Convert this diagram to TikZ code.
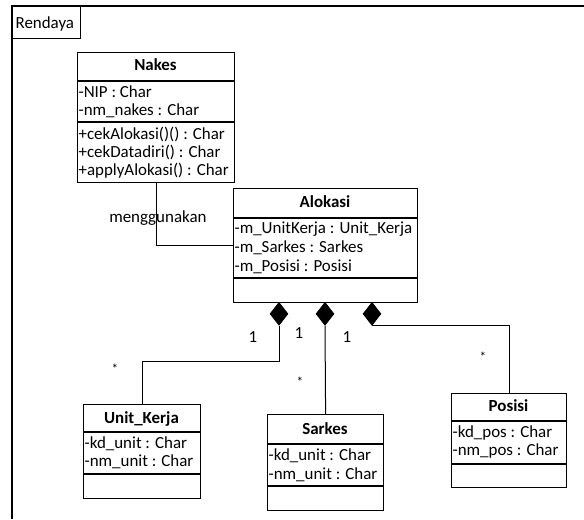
\documentclass[tikz,border=0pt]{standalone}
\usepackage{fontspec}
\setmainfont{Carlito}
\usetikzlibrary{shapes.geometric}
\begin{document}
\begin{tikzpicture}[x=0.75pt,y=-0.75pt,
  every node/.style={font=\fontsize{12.7}{15}\selectfont},
  classbox/.style={draw, line width=0.9pt, anchor=north west, inner sep=0pt},
  sep/.style={line width=0.9pt},
  txt/.style={anchor=base west, inner sep=1pt},
  ttl/.style={anchor=base, inner sep=0pt, font=\fontsize{12.7}{15}\selectfont\bfseries},
  link/.style={line width=0.75pt},
  comp/.style={diamond, fill=black, draw=black, line width=0.5pt, inner sep=0pt,
    minimum width=18*0.75pt, minimum height=23*0.75pt},
  mult/.style={inner sep=0pt}]
\useasboundingbox (0,0) rectangle (584,519);

% package frame and its name tab
\draw[line width=0.9pt] (12,519) -- (12,6) -- (584,6);
\node[classbox, minimum width=68*0.75pt, minimum height=32*0.75pt] (pkg) at (12,6) {};
\node[txt] (pkgname) at (14,28) {Rendaya};

% class Nakes
\node[classbox, minimum width=157*0.75pt, minimum height=130*0.75pt] (nakes) at (77,52) {};
\draw[sep] (nakes.west |- 0,81) -- (nakes.east |- 0,81);
\draw[sep] (nakes.west |- 0,122) -- (nakes.east |- 0,122);
\node[ttl] (nakesT) at (155.5,70) {Nakes};
\node[txt] (nakesA1) at (77,97) {-NIP : Char};
\node[txt] (nakesA2) at (77,115) {-nm\_nakes : Char};
\node[txt] (nakesM1) at (77,139) {+cekAlokasi()() : Char};
\node[txt] (nakesM2) at (77,157) {+cekDatadiri() : Char};
\node[txt] (nakesM3) at (77,175) {+applyAlokasi() : Char};

% class Alokasi
\node[classbox, minimum width=184*0.75pt, minimum height=114*0.75pt] (alok) at (233,188) {};
\draw[sep] (alok.west |- 0,218) -- (alok.east |- 0,218);
\draw[sep] (alok.west |- 0,278) -- (alok.east |- 0,278);
\node[ttl] (alokT) at (325,207) {Alokasi};
\node[txt] (alokA1) at (233,233) {-m\_UnitKerja : Unit\_Kerja};
\node[txt] (alokA2) at (233,252) {-m\_Sarkes : Sarkes};
\node[txt] (alokA3) at (233,271) {-m\_Posisi : Posisi};

% class Unit_Kerja
\node[classbox, minimum width=117*0.75pt, minimum height=94*0.75pt] (uk) at (83,404) {};
\draw[sep] (uk.west |- 0,432) -- (uk.east |- 0,432);
\draw[sep] (uk.west |- 0,474) -- (uk.east |- 0,474);
\node[ttl] (ukT) at (141.5,423) {Unit\_Kerja};
\node[txt] (ukA1) at (83,448) {-kd\_unit : Char};
\node[txt] (ukA2) at (83,466) {-nm\_unit : Char};

% class Sarkes
\node[classbox, minimum width=116*0.75pt, minimum height=96*0.75pt] (sk) at (267,414) {};
\draw[sep] (sk.west |- 0,444) -- (sk.east |- 0,444);
\draw[sep] (sk.west |- 0,486) -- (sk.east |- 0,486);
\node[ttl] (skT) at (325,434) {Sarkes};
\node[txt] (skA1) at (267,460) {-kd\_unit : Char};
\node[txt] (skA2) at (267,479) {-nm\_unit : Char};

% class Posisi
\node[classbox, minimum width=115*0.75pt, minimum height=94*0.75pt] (pos) at (451,393) {};
\draw[sep] (pos.west |- 0,421) -- (pos.east |- 0,421);
\draw[sep] (pos.west |- 0,464) -- (pos.east |- 0,464);
\node[ttl] (posT) at (508.5,411) {Posisi};
\node[txt] (posA1) at (451,437) {-kd\_pos : Char};
\node[txt] (posA2) at (451,455) {-nm\_pos : Char};

% association Nakes -- Alokasi
\draw[link] (nakes.south) |- (alok.west);
\node[anchor=base west, inner sep=0pt] (assoc) at (109,222) {menggunakan};

% composition diamonds on Alokasi
\node[comp, anchor=north] (d1) at (279,302) {};
\node[comp, anchor=north] (d2) at (325,302) {};
\node[comp, anchor=north] (d3) at (372,302) {};

\coordinate (j1) at (0,361);
\draw[link] (d1.south) |- (uk.north |- j1) -- (uk.north);
\draw[link] (d2.south) -- (sk.north);
\draw[link] (d3.south) -| (pos.north);

% multiplicities
\node[mult] (m1a) at (253,337) {1};
\node[mult, font=\fontsize{10}{12}\selectfont] (m1b) at (115,369) {*};
\node[mult] (m2a) at (299,333) {1};
\node[mult, font=\fontsize{10}{12}\selectfont] (m2b) at (300,382) {*};
\node[mult] (m3a) at (347,337) {1};
\node[mult, font=\fontsize{10}{12}\selectfont] (m3b) at (483,357) {*};
\end{tikzpicture}
\end{document}
